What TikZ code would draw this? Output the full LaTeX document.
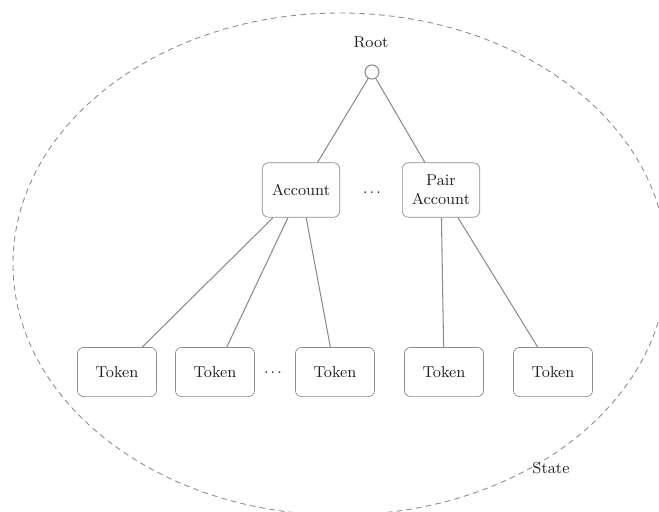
\documentclass[tikz,border=0pt]{standalone}
\usepackage{tikz}
\usetikzlibrary{shapes, positioning, calc}
\definecolor{linegray}{gray}{0.55}
\definecolor{textgray}{gray}{0.12}

\newcommand{\gapdots}{.\hspace{1.2pt}.\hspace{1.2pt}.}

\tikzset{
  acctbox/.style={draw=linegray, rounded corners=3.5pt, minimum width=44pt, minimum height=31pt, align=center, inner sep=1pt, text=textgray, font=\small},
  tokbox/.style={draw=linegray, rounded corners=3.5pt, minimum width=45pt, minimum height=28pt, text=textgray, font=\small},
  link/.style={draw=linegray, line width=0.6pt},
  plain/.style={text=textgray, font=\small}
}

\begin{document}
\begin{tikzpicture}[x=0.02cm, y=-0.02cm]
  \useasboundingbox (0,0) rectangle (659,511);
  \clip (0,0) rectangle (659,511);

  % state boundary
  \draw[linegray, line width=0.5pt, dash pattern=on 3.2pt off 2.4pt] (340,264) ellipse [x radius=327, y radius=251];
  \node[plain] (state) at (551,468) {State};

  \node[circle, draw=linegray, fill=white, line width=0.6pt, minimum size=8pt, inner sep=0pt] (root) at (372,72) {};
  \node[plain] (rootlabel) at (371,42) {Root};

  \node[acctbox] (acct) at (301,190) {Account};
  \node[plain] (adots) at (372,193) {\gapdots};
  \node[acctbox] (pair) at (441,190) {Pair\\Account};

  \node[tokbox] (t1) at (117,372) {Token};
  \node[tokbox] (t2) at (215,372) {Token};
  \node[plain] (tdots) at (273,373) {\gapdots};
  \node[tokbox] (t3) at (335,372) {Token};
  \node[tokbox] (t4) at (444,372) {Token};
  \node[tokbox] (t5) at (553,372) {Token};

  \draw[link] (root) -- (acct);
  \draw[link] (root) -- (pair);
  \foreach \t in {t1, t2, t3}
    \draw[link] (acct) -- (\t);
  \foreach \t in {t4, t5}
    \draw[link] (pair) -- (\t);
\end{tikzpicture}
\end{document}
